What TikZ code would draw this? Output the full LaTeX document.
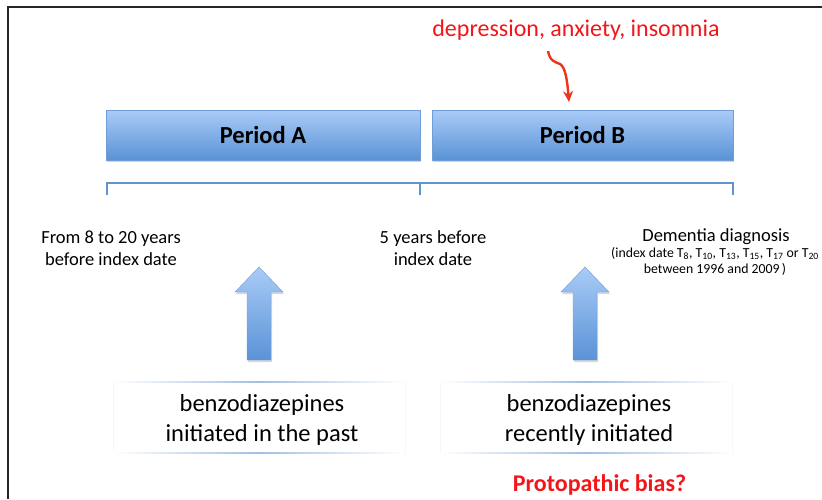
\documentclass[tikz,border=0pt]{standalone}
\usepackage{fontspec}
\setmainfont{Carlito}
\usetikzlibrary{positioning,shadows,arrows.meta}
\definecolor{periodtop}{HTML}{A9CBF7}
\definecolor{periodbottom}{HTML}{5A93D6}
\definecolor{periodline}{HTML}{6F9DD6}
\definecolor{bracketblue}{HTML}{6494D0}
\definecolor{redtext}{HTML}{F2161A}
\definecolor{redarrow}{HTML}{F0331C}
\begin{document}
\begin{tikzpicture}[x=1pt,y=-1pt,
	period/.style={draw=periodline, top color=periodtop, bottom color=periodbottom,
		minimum height=50pt, inner sep=0pt,
		drop shadow={shadow xshift=1pt, shadow yshift=-2pt, opacity=0.35},
		font=\fontsize{24.5}{28}\selectfont\bfseries},
	drugbox/.style={draw=gray!6, minimum width=292pt, minimum height=71pt, align=center,
		font=\fontsize{24.5}{30}\selectfont},
	timetext/.style={align=center, font=\fontsize{18.5}{22}\selectfont}]
		\newcommand{\mysub}[1]{\textsubscript{#1}}
		\useasboundingbox (0,0) rectangle (822,499);
		%Frame (only left and top edge are visible)
		\draw [line width=2pt, black!85] (8,499) -- (8,7) -- (822,7);
		%The two periods
		\node [period, minimum width=314pt] (periodA) at (263,135) {Period A\hspace{12pt}};
		\node [period, minimum width=301pt] (periodB) at (582.5,135) {Period B\hspace{12pt}};
		%Time line under the periods
		\coordinate (tl0) at (107,183);
		\coordinate (tl1) at (420,183);
		\coordinate (tl2) at (733,183);
		\draw [bracketblue, line width=2pt] ([yshift=-12pt]tl0) -- (tl0) -- (tl2) -- ([yshift=-12pt]tl2);
		\draw [bracketblue, line width=2pt] (tl1) -- ([yshift=-12pt]tl1);
		%Labels of the time points
		\node [timetext] (from) at (111,248) {From 8 to 20 years\\before index date};
		\node [timetext] (five) at (433,248) {5 years before\\index date};
		\node [timetext] (dementia) at (716,237) {Dementia diagnosis};
		\node [align=center, font=\fontsize{13.8}{16}\selectfont, below=-5pt of dementia, xshift=-1pt] (index) {(index date T\mysub{8}, T\mysub{10}, T\mysub{13}, T\mysub{15}, T\mysub{17} or T\mysub{20}\\between 1996 and 2009\,)};
		%Symptoms with the curly arrow
		\node [text=redtext, font=\fontsize{24}{28}\selectfont] (symptoms) at (576,30) {depression, anxiety, insomnia};
		\coordinate (curlstart) at (548,51);
		\draw [redarrow, line width=2.4pt, -{Stealth[length=11pt,width=10pt]}] (curlstart) .. controls (550,62) and (556,62) .. (560,64) .. controls (565,67) and (567,78) .. (569,102);
		%Benzodiazepine boxes
		\node [drugbox] (pastbox) at (259,417.5) {};
		\node [drugbox] (recentbox) at (586,417.5) {};
		\foreach \b in {pastbox,recentbox} {
			\shade [left color=white, right color=white, middle color=bracketblue!60]
				(\b.north west) rectangle ([yshift=-1pt]\b.north east);
			\shade [left color=white, right color=white, middle color=bracketblue!60]
				(\b.south west) rectangle ([yshift=1pt]\b.south east);
		}
		\node [drugbox, draw=none] (pasttext) at (262,420) {benzodiazepines\\initiated in the past};
		\node [drugbox, draw=none] (recenttext) at (589,420) {benzodiazepines\\recently initiated};
		%Block arrows pointing up
		\foreach \x in {259,585} {
			\shade [top color=periodtop, bottom color=periodbottom, draw=periodline,
				drop shadow={shadow xshift=1pt, shadow yshift=-2pt, opacity=0.3}]
				(\x,267) -- (\x+24,292) -- (\x+12,292) -- (\x+12,360)
				-- (\x-12,360) -- (\x-12,292) -- (\x-24,292) -- cycle;
		}
		%The question
		\node [text=redtext, font=\fontsize{24}{28}\selectfont\bfseries] (bias) at (599.5,485) {Protopathic bias?};
\end{tikzpicture}
\end{document}
